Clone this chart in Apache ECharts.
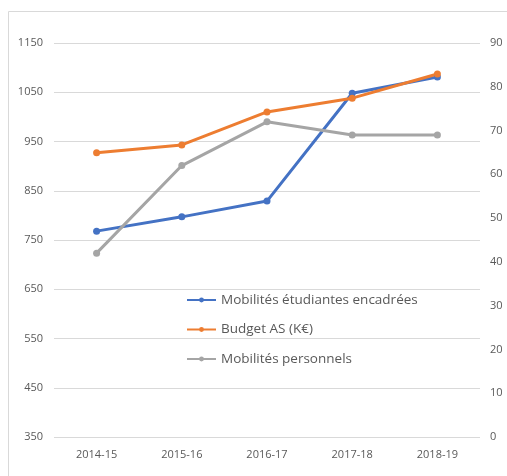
<!DOCTYPE html>
<html>
<head>
<meta charset="utf-8">
<script src="https://cdn.jsdelivr.net/npm/echarts@6/dist/echarts.min.js"></script>
<style>
  html, body { margin: 0; padding: 0; background: #fff; }
  #chart { width: 507px; height: 476px; }
</style>
</head>
<body>
<div id="chart"></div>
<script>
// données
const years = ['2014-15', '2015-16', '2016-17', '2017-18', '2018-19']
const mobilitesEtudiantes = [768, 797, 829, 1048, 1081]
const budgetAS = [927, 943, 1010, 1038, 1087]
const mobilitesPersonnels = [42, 62, 72, 69, 69]

const chart = echarts.init(document.getElementById('chart'))
const labelFont = { color: '#595959', fontSize: 11, fontFamily: 'Open Sans' }

function lineSeries(name, data, color, yAxisIndex) {
  return {
    name: name,
    type: 'line',
    yAxisIndex: yAxisIndex,
    data: data,
    symbol: 'circle',
    symbolSize: 7,
    itemStyle: { color: color },
    lineStyle: { color: color, width: 3 },
    emphasis: { disabled: true }
  }
}

chart.setOption({
  animation: false,
  graphic: [{
    type: 'rect',
    shape: { x: 8.5, y: 11.5, width: 520, height: 480 },
    style: { fill: 'none', stroke: '#d9d9d9', lineWidth: 1 }
  }],
  grid: { left: 54, right: 27, top: 43, bottom: 39 },
  legend: {
    orient: 'vertical',
    left: 181,
    top: 288,
    itemGap: 15.5,
    itemWidth: 29,
    itemHeight: 6,
    textStyle: { color: '#595959', fontSize: 13.5, fontFamily: 'Open Sans' },
    data: ['Mobilités étudiantes encadrées', 'Budget AS (K€)', 'Mobilités personnels']
  },
  xAxis: {
    type: 'category',
    data: years,
    axisLine: { show: false },
    axisTick: { show: false },
    axisLabel: Object.assign({ margin: 12 }, labelFont)
  },
  yAxis: [{
    type: 'value',
    min: 350,
    max: 1150,
    interval: 100,
    axisLine: { show: false },
    axisTick: { show: false },
    axisLabel: Object.assign({ margin: 11, formatter: v => String(v) }, labelFont),
    splitLine: { lineStyle: { color: '#d9d9d9', width: 1 } }
  }, {
    type: 'value',
    min: 0,
    max: 90,
    interval: 10,
    position: 'right',
    axisLine: { show: false },
    axisTick: { show: false },
    axisLabel: Object.assign({ margin: 10 }, labelFont),
    splitLine: { show: false }
  }],
  series: [
    lineSeries('Mobilités étudiantes encadrées', mobilitesEtudiantes, '#4472C4', 0),
    lineSeries('Budget AS (K€)', budgetAS, '#ED7D31', 0),
    lineSeries('Mobilités personnels', mobilitesPersonnels, '#A5A5A5', 1)
  ]
})
</script>
</body>
</html>
